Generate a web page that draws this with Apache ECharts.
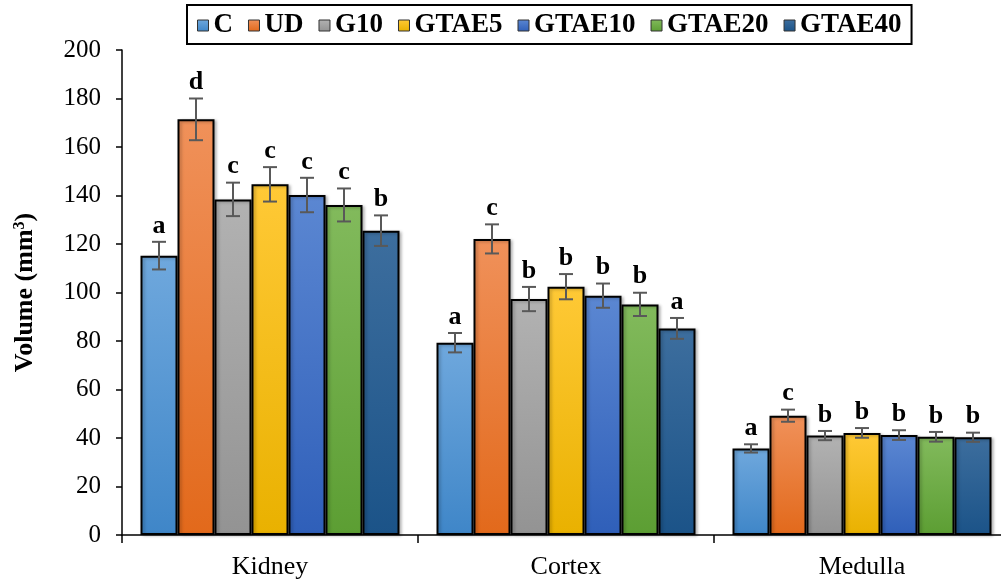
<!DOCTYPE html>
<html>
<head>
<meta charset="utf-8">
<script src="https://cdn.jsdelivr.net/npm/echarts@6/dist/echarts.min.js"></script>
<style>
  html, body { margin: 0; padding: 0; background: #fff; }
  #chart { width: 1001px; height: 582px; }
</style>
</head>
<body>
<div id="chart"></div>
<script>
// data
var categories = ['Kidney', 'Cortex', 'Medulla'];
var groups = ['C', 'UD', 'G10', 'GTAE5', 'GTAE10', 'GTAE20', 'GTAE40'];

var valC      = [115.2, 79.3, 35.7];
var valUD     = [171.4, 122.1, 49.2];
var valG10    = [138.4, 97.3, 41.0];
var valGTAE5  = [144.6, 102.4, 42.1];
var valGTAE10 = [140.2, 98.7, 41.2];
var valGTAE20 = [136.1, 95.1, 40.5];
var valGTAE40 = [125.5, 85.2, 40.3];

var errC      = [5.7, 4.0, 1.7];
var errUD     = [8.6, 6.0, 2.5];
var errG10    = [6.9, 5.0, 1.9];
var errGTAE5  = [7.1, 5.2, 2.0];
var errGTAE10 = [7.1, 5.0, 2.0];
var errGTAE20 = [6.8, 4.8, 2.0];
var errGTAE40 = [6.3, 4.3, 1.9];

var letC      = ['a', 'a', 'a'];
var letUD     = ['d', 'c', 'c'];
var letG10    = ['c', 'b', 'b'];
var letGTAE5  = ['c', 'b', 'b'];
var letGTAE10 = ['c', 'b', 'b'];
var letGTAE20 = ['c', 'b', 'b'];
var letGTAE40 = ['b', 'a', 'b'];

var yTicks = [0, 20, 40, 60, 80, 100, 120, 140, 160, 180, 200];

var values = [valC, valUD, valG10, valGTAE5, valGTAE10, valGTAE20, valGTAE40];
var errors = [errC, errUD, errG10, errGTAE5, errGTAE10, errGTAE20, errGTAE40];
var letters = [letC, letUD, letG10, letGTAE5, letGTAE10, letGTAE20, letGTAE40];

// office-like gradients, lighter at top
var colorTop = ['#6fa8dd', '#f0915a', '#b2b2b2', '#ffc936', '#5b87d2', '#82ba5c', '#3d6e9e'];
var colorBot = ['#3f86c8', '#e2691b', '#939393', '#e9b100', '#2f5fb9', '#5c9e33', '#1b5388'];

var catGap = 0.125;
var font = '"Liberation Serif", "Times New Roman", serif';

var chart = echarts.init(document.getElementById('chart'));

var series = [];
groups.forEach(function (g, i) {
    series.push({
        name: g,
        type: 'bar',
        barGap: 0,
        barCategoryGap: (catGap * 100) + '%',
        data: values[i],
        itemStyle: {
            color: new echarts.graphic.LinearGradient(0, 0, 0, 1, [
                { offset: 0, color: colorTop[i] },
                { offset: 1, color: colorBot[i] }
            ]),
            borderColor: '#000',
            borderWidth: 2,
            shadowColor: 'rgba(0,0,0,0.25)',
            shadowBlur: 3,
            shadowOffsetX: 2,
            shadowOffsetY: 1
        },
        emphasis: { disabled: true },
        z: 2
    });
});

// error bars + letters
groups.forEach(function (g, i) {
    var d = values[i].map(function (v, k) {
        return [k, v, errors[i][k], letters[i][k]];
    });
    series.push({
        type: 'custom',
        name: g + '_err',
        data: d,
        z: 5,
        silent: true,
        renderItem: function (params, api) {
            var idx = api.value(0);
            var v = api.value(1);
            var e = api.value(2);
            var band = api.size([1, 0])[0];
            var total = band * (1 - catGap);
            var barW = total / groups.length;
            var center = api.coord([idx, v]);
            var cx = center[0] - total / 2 + (i + 0.5) * barW;
            var yHi = api.coord([idx, v + e])[1];
            var yLo = api.coord([idx, v - e])[1];
            var cap = 7;
            var st = { stroke: '#595959', lineWidth: 2 };
            return {
                type: 'group',
                children: [
                    { type: 'line', shape: { x1: cx, y1: yHi, x2: cx, y2: yLo }, style: st },
                    { type: 'line', shape: { x1: cx - cap, y1: yHi, x2: cx + cap, y2: yHi }, style: st },
                    { type: 'line', shape: { x1: cx - cap, y1: yLo, x2: cx + cap, y2: yLo }, style: st },
                    {
                        type: 'text',
                        style: {
                            x: cx, y: yHi - 3,
                            text: letters[i][idx],
                            fill: '#000',
                            font: 'bold 26px ' + font,
                            align: 'center',
                            verticalAlign: 'bottom'
                        }
                    }
                ]
            };
        }
    });
});

var option = {
    animation: false,
    backgroundColor: '#fff',
    legend: {
        data: groups,
        top: 5,
        left: 187,
        icon: 'rect',
        itemWidth: 11,
        itemHeight: 11,
        itemGap: 15,
        padding: [7, 10, 5, 10],
        borderColor: '#000',
        borderWidth: 2,
        itemStyle: { borderColor: '#333', borderWidth: 1, shadowBlur: 0, shadowOffsetX: 0, shadowOffsetY: 0 },
        textStyle: { fontFamily: font, fontWeight: 'bold', fontSize: 27, color: '#000', padding: [2, 0, 0, 0] }
    },
    grid: {
        left: 122,
        right: -9,
        top: 50,
        bottom: 47,
        containLabel: false,
        outerBoundsMode: 'none'
    },
    xAxis: {
        type: 'category',
        data: categories,
        axisLine: { lineStyle: { color: '#000', width: 1.5 } },
        axisTick: { show: true, length: 8, interval: 0, lineStyle: { color: '#000', width: 1.5 } },
        axisLabel: { color: '#000', fontFamily: font, fontSize: 26, margin: 19 }
    },
    yAxis: {
        type: 'value',
        min: yTicks[0],
        max: yTicks[yTicks.length - 1],
        interval: yTicks[1] - yTicks[0],
        axisLine: { show: true, lineStyle: { color: '#000', width: 1.5 } },
        axisTick: { show: true, length: 6, lineStyle: { color: '#000', width: 1.5 } },
        splitLine: { show: false },
        axisLabel: { color: '#000', fontFamily: font, fontSize: 25, margin: 21 },
        name: '{a|Volume (mm}{s|3}{a|)}',
        nameLocation: 'middle',
        nameRotate: 90,
        nameGap: 84,
        nameTextStyle: {
            rich: {
                a: { fontFamily: font, fontWeight: 'bold', fontSize: 26, color: '#000' },
                s: { fontFamily: font, fontWeight: 'bold', fontSize: 16, color: '#000', verticalAlign: 'top', padding: [0, 0, 10, 0] }
            }
        }
    },
    series: series
};

chart.setOption(option);
</script>
</body>
</html>
